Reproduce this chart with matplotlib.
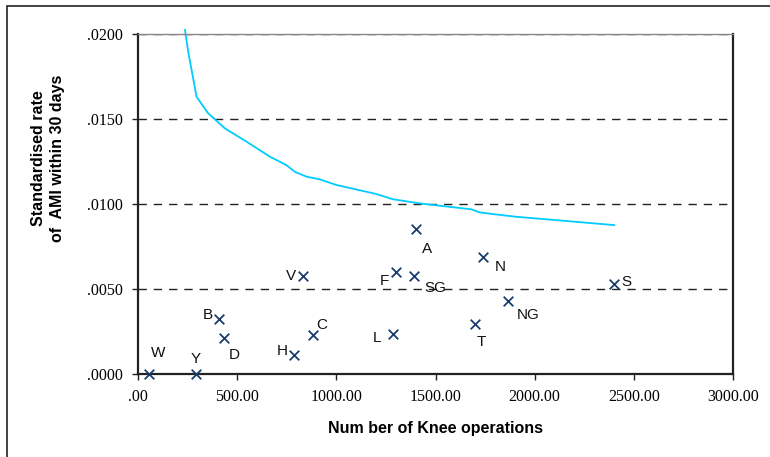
# AMI rate after knee operations vs number of operations, with control limit

import matplotlib.pyplot as plt
from matplotlib.patches import Rectangle

# -------------------------------
# Data
# -------------------------------
units = ['W', 'Y', 'B', 'D', 'H', 'C', 'V', 'F', 'SG', 'A', 'L', 'N', 'T', 'NG', 'S']
operations = [54, 292, 408, 434, 787, 881, 832, 1300, 1394, 1404, 1285, 1741, 1701, 1864, 2401]
ami_rate = [0.0000, 0.0000, 0.00322, 0.00214, 0.00110, 0.00228, 0.00575, 0.00600,
            0.00575, 0.00851, 0.00235, 0.00690, 0.00294, 0.00430, 0.00530]

# label offsets from the marker, in pixels
label_dx = [9, 0, -11, 10, -12, 9, -12, -11, 21, 11, -16, 17, 6, 20, 12]
label_dy = [21, 15, 4, -17, 4, 10, 0, -9, -12, -20, -4, -10, -18, -14, 2]

# upper limit curve
limit_x = [237, 253, 278, 295, 354, 388, 438, 547, 664, 748, 790, 849, 916, 1000,
           1201, 1285, 1419, 1520, 1680, 1721, 1787, 1906, 2401]
limit_y = [0.02024, 0.01896, 0.01740, 0.01631, 0.01533, 0.01498, 0.01445, 0.01367,
           0.01279, 0.01229, 0.01190, 0.01161, 0.01145, 0.01112, 0.01059, 0.01028,
           0.01004, 0.00990, 0.00969, 0.00951, 0.00941, 0.00925, 0.00876]

x_ticks = [0, 500, 1000, 1500, 2000, 2500, 3000]
x_tick_labels = ['.00', '500.00', '1000.00', '1500.00', '2000.00', '2500.00', '3000.00']
y_ticks = [0.0, 0.005, 0.010, 0.015, 0.020]
y_tick_labels = ['.0000', '.0050', '.0100', '.0150', '.0200']

# -------------------------------
# Plot
# -------------------------------
W, H = 770, 457
fig = plt.figure(figsize=(7.7, 4.57), dpi=100)
ax = fig.add_axes([138 / W, 1 - 374 / H, (733 - 138) / W, (374 - 34) / H])

# outer chart frame
fig.patches.append(Rectangle((7 / W, -0.1), 1.2, 1 - 6 / H + 0.1, transform=fig.transFigure,
                             fill=False, edgecolor='#222222', linewidth=1.2))

for yv in y_ticks[1:]:
    ax.axhline(yv, color='#222222', linestyle=(0, (6, 5)), linewidth=1.0, zorder=1)

ax.plot(limit_x, limit_y, color='#00ccff', linewidth=1.3, clip_on=False, zorder=2)

ax.scatter(operations, ami_rate, marker='x', s=48, color='#1a3d6e', linewidths=1.3,
           clip_on=False, zorder=3)

for name, xv, yv, dx, dy in zip(units, operations, ami_rate, label_dx, label_dy):
    ax.annotate(name, (xv, yv), xytext=(dx, dy), textcoords='offset pixels',
                ha='center', va='center', fontsize=11, family='Liberation Sans',
                color='#111111')

ax.set_xlim(0, 3000)
ax.set_ylim(0, 0.02)
ax.set_xticks(x_ticks)
ax.set_xticklabels(x_tick_labels, family='Liberation Serif', fontsize=11.5)
ax.set_yticks(y_ticks)
ax.set_yticklabels(y_tick_labels, family='Liberation Serif', fontsize=11.5)
ax.tick_params(axis='both', direction='out', length=4, width=1.0, color='#222222', pad=7)

for side in ['left', 'bottom', 'right']:
    ax.spines[side].set_color('#222222')
    ax.spines[side].set_linewidth(1.6)
ax.spines['top'].set_color('#888888')
ax.spines['top'].set_linewidth(1.0)

ax.set_xlabel('Num ber of Knee operations', family='Liberation Sans', fontweight='bold',
              fontsize=11.5, labelpad=11)
fig.text(48 / W, 1 - 158 / H, 'Standardised rate\nof  AMI within 30 days', rotation=90,
         ha='center', va='center', family='Liberation Sans', fontweight='bold',
         fontsize=11.5, linespacing=1.3)

fig.savefig('out.png', dpi=100)
